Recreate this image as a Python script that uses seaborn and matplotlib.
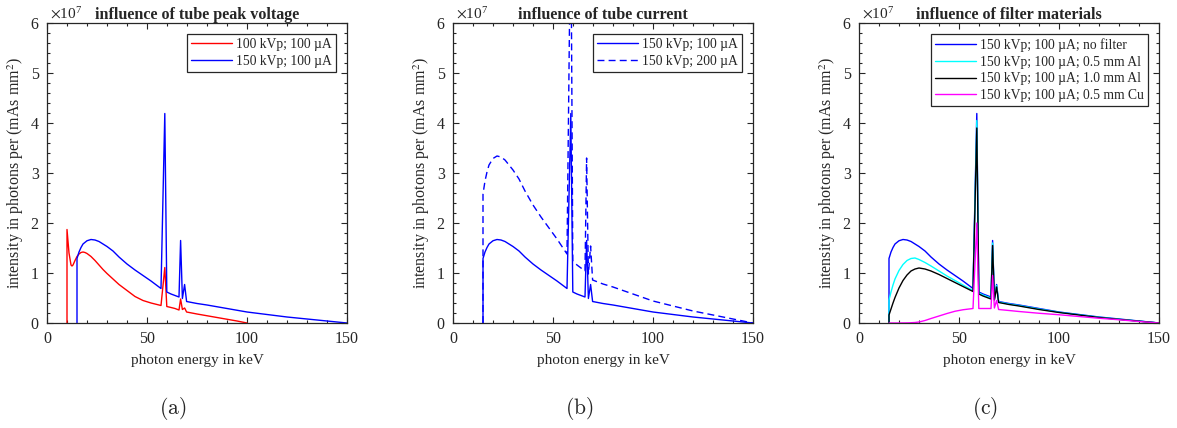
import numpy as np
import matplotlib
matplotlib.use('Agg')
import matplotlib.pyplot as plt
import seaborn as sns
from matplotlib.ticker import MultipleLocator

# photon spectra, intensity in units of 1e7 photons per (mAs mm^2)
e_100 = [10, 10, 11, 12, 12.5, 13, 14, 15, 16, 17, 18, 19, 20, 22, 24, 26, 28, 30, 33, 36,
         40, 44, 48, 52, 55, 57, 58.9, 59.9, 62, 64, 66, 66.8, 67.7, 68.8, 69.8, 75, 80, 85,
         90, 95, 100]
i_100 = [0, 1.87, 1.4, 1.16, 1.14, 1.16, 1.25, 1.33, 1.38, 1.41, 1.42, 1.41, 1.39, 1.33, 1.25,
         1.16, 1.07, 0.99, 0.88, 0.77, 0.65, 0.53, 0.45, 0.40, 0.37, 0.35, 1.11, 0.33, 0.31,
         0.29, 0.26, 0.48, 0.27, 0.30, 0.22, 0.18, 0.145, 0.11, 0.075, 0.04, 0.0]

e_150 = [15, 15, 16, 17, 18, 20, 22, 24, 26, 28, 30, 33, 36, 40, 44, 48, 52, 55, 57, 58.9,
         59.9, 62, 64, 66, 66.8, 67.7, 68.8, 69.8, 75, 80, 90, 100, 110, 120, 130, 140, 150]
i_150 = [0, 1.29, 1.42, 1.51, 1.58, 1.645, 1.67, 1.66, 1.63, 1.58, 1.53, 1.44, 1.32, 1.18,
         1.06, 0.95, 0.84, 0.75, 0.69, 4.19, 0.62, 0.58, 0.55, 0.52, 1.65, 0.49, 0.77, 0.43,
         0.39, 0.36, 0.29, 0.22, 0.17, 0.12, 0.08, 0.04, 0.0]
i_150_200ua = [0, 2.58, 2.84, 3.02, 3.16, 3.29, 3.34, 3.32, 3.26, 3.16, 3.06, 2.88, 2.64, 2.36,
               2.12, 1.90, 1.68, 1.50, 1.38, 8.38, 1.24, 1.16, 1.10, 1.04, 3.30, 0.98, 1.54,
               0.86, 0.78, 0.72, 0.58, 0.44, 0.34, 0.24, 0.16, 0.08, 0.0]
i_al05 = [0, 0.46, 0.62, 0.76, 0.88, 1.05, 1.17, 1.25, 1.29, 1.30, 1.27, 1.21, 1.14, 1.04,
          0.94, 0.85, 0.76, 0.69, 0.65, 4.05, 0.60, 0.56, 0.53, 0.50, 1.60, 0.47, 0.75, 0.42,
          0.38, 0.35, 0.28, 0.215, 0.165, 0.115, 0.075, 0.038, 0.0]
i_al10 = [0, 0.16, 0.28, 0.40, 0.51, 0.70, 0.85, 0.96, 1.04, 1.08, 1.10, 1.08, 1.04, 0.97,
          0.89, 0.81, 0.73, 0.67, 0.63, 3.90, 0.58, 0.54, 0.51, 0.48, 1.55, 0.46, 0.72, 0.41,
          0.37, 0.34, 0.27, 0.21, 0.16, 0.11, 0.072, 0.036, 0.0]
e_cu = [15, 20, 25, 28, 30, 33, 36, 40, 44, 48, 52, 55, 57, 58.9, 59.9, 62, 64, 66, 66.8,
        67.7, 68.8, 69.8, 75, 80, 90, 100, 110, 120, 130, 140, 150]
i_cu = [0, 0, 0.003, 0.01, 0.02, 0.05, 0.09, 0.14, 0.19, 0.235, 0.265, 0.28, 0.29, 2.0, 0.29,
        0.29, 0.29, 0.29, 0.95, 0.30, 0.45, 0.27, 0.25, 0.23, 0.195, 0.165, 0.13, 0.095,
        0.065, 0.03, 0.0]

titles = ['influence of tube peak voltage', 'influence of tube current',
          'influence of filter materials']
captions = ['(a)', '(b)', '(c)']

sns.set_style('ticks')
plt.rcParams['font.family'] = ['Liberation Serif', 'DejaVu Serif']
plt.rcParams['mathtext.fontset'] = 'stix'
ink = '#262626'

fig = plt.figure(figsize=(11.77, 4.28), dpi=100)
lefts = [47, 453, 859]
axes = [fig.add_axes([l / 1177, 105 / 428, 300 / 1177, 300 / 428]) for l in lefts]

lw = 1.0
ax = axes[0]
sns.lineplot(x=e_100, y=i_100, ax=ax, color='#ff0000', lw=lw, estimator=None, sort=False,
             label='100 kVp; 100 µA')
sns.lineplot(x=e_150, y=i_150, ax=ax, color='#0000ff', lw=lw, estimator=None, sort=False,
             label='150 kVp; 100 µA')

ax = axes[1]
sns.lineplot(x=e_150, y=i_150, ax=ax, color='#0000ff', lw=lw, estimator=None, sort=False,
             label='150 kVp; 100 µA')
sns.lineplot(x=e_150, y=i_150_200ua, ax=ax, color='#0000ff', lw=lw, estimator=None,
             sort=False, linestyle=(0, (5, 3)), label='150 kVp; 200 µA')

ax = axes[2]
sns.lineplot(x=e_150, y=i_150, ax=ax, color='#0000ff', lw=lw, estimator=None, sort=False,
             label='150 kVp; 100 µA; no filter')
sns.lineplot(x=e_150, y=i_al05, ax=ax, color='#00ffff', lw=lw, estimator=None, sort=False,
             label='150 kVp; 100 µA; 0.5 mm Al')
sns.lineplot(x=e_150, y=i_al10, ax=ax, color='#000000', lw=lw, estimator=None, sort=False,
             label='150 kVp; 100 µA; 1.0 mm Al')
sns.lineplot(x=e_cu, y=i_cu, ax=ax, color='#ff00ff', lw=lw, estimator=None, sort=False,
             label='150 kVp; 100 µA; 0.5 mm Cu')

for ax, title, cap in zip(axes, titles, captions):
    ax.set_xlim(0, 150)
    ax.set_ylim(0, 6)
    ax.xaxis.set_major_locator(MultipleLocator(50))
    ax.xaxis.set_minor_locator(MultipleLocator(10))
    ax.yaxis.set_major_locator(MultipleLocator(1))
    ax.yaxis.set_minor_locator(MultipleLocator(0.2))
    ax.tick_params(which='both', direction='in', top=True, right=True, colors=ink,
                   labelsize=11.5, width=0.8)
    ax.tick_params(which='major', length=4, pad=6)
    ax.tick_params(which='minor', length=2)
    for s in ax.spines.values():
        s.set_color(ink)
        s.set_linewidth(0.9)
    ax.set_xlabel('photon energy in keV', fontsize=11, color=ink, labelpad=5)
    ax.set_ylabel(r'intensity in photons per (mAs mm$^2$)', fontsize=11.5, color=ink,
                  labelpad=3)
    ax.set_title(title, fontsize=11.6, fontweight='bold', pad=3)
    ax.text(0.01, 1.005, r'$\times\mathregular{10^{7}}$', transform=ax.transAxes,
            ha='left', va='bottom', fontsize=11, color=ink)
    ax.legend(loc='upper right', frameon=True, fancybox=False, edgecolor=ink,
              framealpha=1, handlelength=3.0, fontsize=9.8, borderaxespad=0.8,
              labelspacing=0.28, borderpad=0.3, handletextpad=0.3)
    ax.legend_.get_frame().set_linewidth(0.9)
    fig.text((ax.get_position().x0 + ax.get_position().x1) / 2 - 24 / 1177, 1 - 408 / 428,
             r'$\mathrm{' + cap + '}$', ha='center', va='center', fontsize=15.5,
             math_fontfamily='cm')

fig.savefig('out.png', dpi=100)
